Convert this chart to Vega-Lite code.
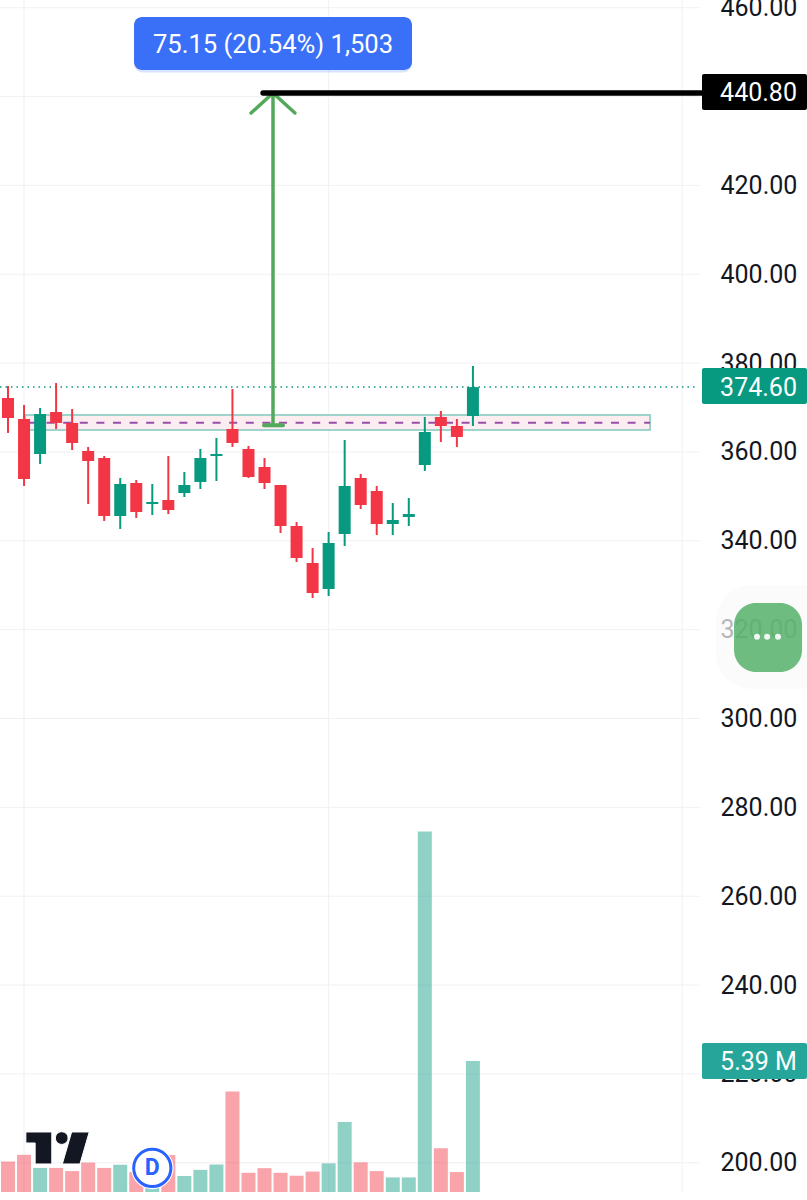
{
  "$schema": "https://vega.github.io/schema/vega-lite/v6.json",
  "width": 807,
  "height": 1200,
  "autosize": {"type": "none"},
  "padding": 0,
  "background": "#ffffff",
  "config": {"view": {"stroke": null}, "text": {"font": "Roboto"}},
  "datasets": {
    "candles": [
      {"x": 0, "open": 372.16, "high": 374.86, "low": 364.28, "close": 367.65, "volume": 1.25, "dir": "down"},
      {"x": 1, "open": 367.43, "high": 370.58, "low": 352.35, "close": 353.92, "volume": 1.53, "dir": "down"},
      {"x": 2, "open": 359.55, "high": 369.90, "low": 357.30, "close": 368.55, "volume": 0.99, "dir": "up"},
      {"x": 3, "open": 369.00, "high": 375.53, "low": 365.18, "close": 366.53, "volume": 0.99, "dir": "down"},
      {"x": 4, "open": 366.53, "high": 369.68, "low": 360.45, "close": 362.03, "volume": 0.86, "dir": "down"},
      {"x": 5, "open": 360.23, "high": 361.13, "low": 348.29, "close": 357.97, "volume": 1.21, "dir": "down"},
      {"x": 6, "open": 358.65, "high": 359.10, "low": 344.47, "close": 345.59, "volume": 0.99, "dir": "down"},
      {"x": 7, "open": 345.59, "high": 354.15, "low": 342.67, "close": 352.80, "volume": 1.12, "dir": "up"},
      {"x": 8, "open": 353.02, "high": 353.70, "low": 345.14, "close": 346.49, "volume": 0.82, "dir": "down"},
      {"x": 9, "open": 348.29, "high": 352.80, "low": 345.82, "close": 348.74, "volume": 0.99, "dir": "up"},
      {"x": 10, "open": 349.19, "high": 359.10, "low": 346.04, "close": 346.94, "volume": 1.52, "dir": "down"},
      {"x": 11, "open": 350.77, "high": 355.50, "low": 349.87, "close": 352.57, "volume": 0.66, "dir": "up"},
      {"x": 12, "open": 353.25, "high": 360.68, "low": 351.67, "close": 358.65, "volume": 0.91, "dir": "up"},
      {"x": 13, "open": 359.10, "high": 363.15, "low": 353.47, "close": 359.55, "volume": 1.13, "dir": "up"},
      {"x": 14, "open": 365.18, "high": 374.18, "low": 361.13, "close": 362.03, "volume": 4.13, "dir": "down"},
      {"x": 15, "open": 360.68, "high": 361.35, "low": 354.15, "close": 354.37, "volume": 0.79, "dir": "down"},
      {"x": 16, "open": 356.62, "high": 358.65, "low": 351.67, "close": 353.02, "volume": 0.98, "dir": "down"},
      {"x": 17, "open": 352.57, "high": 352.57, "low": 341.77, "close": 343.34, "volume": 0.79, "dir": "down"},
      {"x": 18, "open": 343.34, "high": 344.24, "low": 335.24, "close": 336.14, "volume": 0.67, "dir": "down"},
      {"x": 19, "open": 335.01, "high": 338.39, "low": 327.13, "close": 328.26, "volume": 0.84, "dir": "down"},
      {"x": 20, "open": 329.16, "high": 341.99, "low": 327.58, "close": 339.52, "volume": 1.18, "dir": "up"},
      {"x": 21, "open": 341.54, "high": 362.70, "low": 338.84, "close": 352.35, "volume": 2.88, "dir": "up"},
      {"x": 22, "open": 354.15, "high": 355.05, "low": 347.17, "close": 348.07, "volume": 1.22, "dir": "down"},
      {"x": 23, "open": 351.22, "high": 352.35, "low": 341.32, "close": 343.79, "volume": 0.86, "dir": "down"},
      {"x": 24, "open": 343.79, "high": 348.52, "low": 341.32, "close": 344.69, "volume": 0.60, "dir": "up"},
      {"x": 25, "open": 345.37, "high": 349.64, "low": 343.34, "close": 346.04, "volume": 0.60, "dir": "up"},
      {"x": 26, "open": 357.07, "high": 367.88, "low": 355.72, "close": 364.50, "volume": 14.83, "dir": "up"},
      {"x": 27, "open": 367.88, "high": 369.23, "low": 362.25, "close": 365.85, "volume": 1.80, "dir": "down"},
      {"x": 28, "open": 365.85, "high": 367.43, "low": 361.13, "close": 363.38, "volume": 0.82, "dir": "down"},
      {"x": 29, "open": 368.10, "high": 379.36, "low": 365.85, "close": 374.60, "volume": 5.39, "dir": "up"}
    ],
    "hgrid": [
      {"x": -0.5, "x2": 43.17, "price": 460},
      {"x": -0.5, "x2": 43.17, "price": 440},
      {"x": -0.5, "x2": 43.17, "price": 420},
      {"x": -0.5, "x2": 43.17, "price": 400},
      {"x": -0.5, "x2": 43.17, "price": 380},
      {"x": -0.5, "x2": 43.17, "price": 360},
      {"x": -0.5, "x2": 43.17, "price": 340},
      {"x": -0.5, "x2": 43.17, "price": 320},
      {"x": -0.5, "x2": 43.17, "price": 300},
      {"x": -0.5, "x2": 43.17, "price": 280},
      {"x": -0.5, "x2": 43.17, "price": 260},
      {"x": -0.5, "x2": 43.17, "price": 240},
      {"x": -0.5, "x2": 43.17, "price": 220},
      {"x": -0.5, "x2": 43.17, "price": 200}
    ],
    "vgrid": [
      {"x": 1, "price": 193.2, "price2": 461.74},
      {"x": 20, "price": 193.2, "price2": 461.74},
      {"x": 42.05, "price": 193.2, "price2": 461.74}
    ],
    "arrow": [
      {"x": 16.53, "x2": 16.53, "price": 440.8, "price2": 366},
      {"x": 16.53, "x2": 15.16, "price": 440.8, "price2": 436.3},
      {"x": 16.53, "x2": 17.9, "price": 440.8, "price2": 436.3}
    ],
    "boxes": [
      {"x": 43.29, "x2": 49.84, "price": 445.06, "price2": 436.99, "kind": "target", "label": "440.80", "mid": 440.7, "textx": 44.42},
      {"x": 43.29, "x2": 49.84, "price": 378.9, "price2": 370.8, "kind": "last", "label": "374.60", "mid": 374.5, "textx": 44.42},
      {"x": 43.29, "x2": 49.84, "price": 226.96, "price2": 218.86, "kind": "vol", "label": "5.39 M", "mid": 222.6, "textx": 44.42}
    ]
  },
  "encoding": {
    "x": {"field": "x", "type": "quantitative", "scale": {"domain": [-0.5, 49.84], "nice": false, "zero": false, "padding": 0}, "axis": null},
    "y": {"field": "price", "type": "quantitative", "scale": {"domain": [191.62, 461.74], "nice": false, "zero": false}, "axis": null}
  },
  "resolve": {"scale": {"y": "independent"}},
  "layer": [
    {
      "data": {"name": "hgrid"},
      "mark": {"type": "rule", "color": "#F0F1F4", "strokeWidth": 1},
      "encoding": {
        "x2": {"field": "x2"},
        "y": {
          "field": "price",
          "type": "quantitative",
          "scale": {"domain": [191.62, 461.74], "nice": false, "zero": false},
          "axis": {
            "orient": "right",
            "values": [200, 220, 240, 260, 280, 300, 320, 340, 360, 380, 400, 420, 440, 460],
            "format": ".2f",
            "grid": false,
            "domain": false,
            "ticks": false,
            "title": null,
            "labelPadding": -87,
            "labelAlign": "left",
            "labelBaseline": "middle",
            "labelFont": "Roboto",
            "labelFontSize": 25,
            "labelColor": "#131722",
            "labelOverlap": false,
            "labelFlush": false,
            "labelBound": false
          }
        }
      }
    },
    {
      "data": {"name": "vgrid"},
      "mark": {"type": "rule", "color": "#F0F1F4", "strokeWidth": 1},
      "encoding": {"y2": {"field": "price2"}}
    },
    {
      "data": {"name": "candles"},
      "mark": {"type": "bar", "size": 14, "opacity": 0.45, "orient": "vertical"},
      "encoding": {
        "y": {"field": "volume", "type": "quantitative", "stack": null, "scale": {"domain": [-0.33, 49.05], "nice": false}, "axis": null},
        "color": {"field": "dir", "type": "nominal", "scale": {"domain": ["up", "down"], "range": ["#089981", "#F23645"]}, "legend": null}
      }
    },
    {
      "data": {"values": [{"x": 1.06, "x2": 40.05, "price": 368.33, "price2": 364.95}]},
      "mark": {"type": "rect", "fill": "#FCEDF0", "stroke": "#7FC9BF", "strokeWidth": 1.5},
      "encoding": {"x2": {"field": "x2"}, "y2": {"field": "price2"}}
    },
    {
      "data": {"values": [{"x": 1.37, "x2": 40.05, "price": 366.6}]},
      "mark": {"type": "rule", "color": "#9A4DA8", "strokeWidth": 2, "strokeDash": [8, 8.6]},
      "encoding": {"x2": {"field": "x2"}}
    },
    {
      "data": {"values": [{"x": -0.5, "x2": 43.04, "price": 374.6}]},
      "mark": {"type": "rule", "color": "#089981", "strokeWidth": 1.5, "strokeDash": [1.5, 4]},
      "encoding": {"x2": {"field": "x2"}}
    },
    {
      "data": {"name": "candles"},
      "mark": {"type": "rule", "strokeWidth": 2},
      "encoding": {
        "y": {"field": "low", "type": "quantitative", "scale": {"domain": [191.62, 461.74], "nice": false, "zero": false}, "axis": null},
        "y2": {"field": "high"},
        "color": {"field": "dir", "type": "nominal", "legend": null}
      }
    },
    {
      "data": {"name": "candles"},
      "mark": {"type": "bar", "size": 12, "orient": "vertical"},
      "encoding": {
        "y": {"field": "open", "type": "quantitative", "scale": {"domain": [191.62, 461.74], "nice": false, "zero": false}, "axis": null},
        "y2": {"field": "close"},
        "color": {"field": "dir", "type": "nominal", "legend": null}
      }
    },
    {
      "data": {"values": [{"x": 15.97, "x2": 17.15, "price": 366}]},
      "mark": {"type": "rule", "color": "#53A95B", "strokeWidth": 4, "strokeCap": "round"},
      "encoding": {"x2": {"field": "x2"}}
    },
    {
      "data": {"name": "arrow"},
      "mark": {"type": "rule", "color": "#53A95B", "strokeWidth": 3.5, "strokeCap": "round"},
      "encoding": {"x2": {"field": "x2"}, "y2": {"field": "price2"}}
    },
    {
      "data": {"values": [{"x": 15.91, "x2": 43.29, "price": 440.8}]},
      "mark": {"type": "rule", "color": "#000000", "strokeWidth": 5.5, "strokeCap": "round"},
      "encoding": {"x2": {"field": "x2"}}
    },
    {
      "data": {"name": "boxes"},
      "mark": {"type": "rect", "cornerRadius": 2},
      "encoding": {
        "x2": {"field": "x2"},
        "y2": {"field": "price2"},
        "fill": {"field": "kind", "type": "nominal", "scale": {"domain": ["target", "last", "vol"], "range": ["#000000", "#089981", "#26A69A"]}, "legend": null}
      }
    },
    {
      "data": {"name": "boxes"},
      "mark": {"type": "text", "align": "left", "baseline": "middle", "font": "Roboto", "fontSize": 25, "color": "#ffffff"},
      "encoding": {
        "x": {"field": "textx", "type": "quantitative"},
        "y": {"field": "mid", "type": "quantitative", "scale": {"domain": [191.62, 461.74], "nice": false, "zero": false}, "axis": null},
        "text": {"field": "label"}
      }
    },
    {
      "data": {"values": [{"x": 7.86, "x2": 25.2, "price": 457.5, "price2": 445.4}]},
      "mark": {"type": "rect", "fill": "#2962FF", "opacity": 0.18, "cornerRadius": 9},
      "encoding": {"x2": {"field": "x2"}, "y2": {"field": "price2"}}
    },
    {
      "data": {"values": [{"x": 7.86, "x2": 25.2, "price": 457.92, "price2": 445.99}]},
      "mark": {"type": "rect", "fill": "#3A6FF8", "cornerRadius": 8},
      "encoding": {"x2": {"field": "x2"}, "y2": {"field": "price2"}}
    },
    {
      "data": {"values": [{"x": 16.53, "price": 451.6, "label": "75.15 (20.54%) 1,503"}]},
      "mark": {"type": "text", "align": "center", "baseline": "middle", "font": "Roboto", "fontSize": 25.6, "color": "#ffffff"},
      "encoding": {"text": {"field": "label"}}
    },
    {
      "data": {"values": [{"x": 3.09, "price": 203.33}]},
      "mark": {
        "type": "point",
        "filled": true,
        "size": 4096,
        "opacity": 1,
        "color": "#131722",
        "stroke": "#ffffff",
        "strokeWidth": 1,
        "shape": "M-0.99,-0.5L-0.18,-0.5L-0.18,0.5L-0.7,0.5L-0.7,-0.156L-0.99,-0.156ZM-0.066,-0.31A0.197,0.197 0 1,0 0.328,-0.31A0.197,0.197 0 1,0 -0.066,-0.31ZM0.44,-0.5L0.99,-0.5L0.7,0.5L0.15,0.5Z"
      }
    },
    {
      "data": {"values": [{"x": 9, "price": 198.83}]},
      "mark": {"type": "point", "shape": "circle", "filled": true, "size": 1810, "color": "#ffffff", "opacity": 1}
    },
    {
      "data": {"values": [{"x": 9, "price": 198.83}]},
      "mark": {"type": "point", "shape": "circle", "filled": true, "size": 1385, "fill": "#ffffff", "stroke": "#2962FF", "strokeWidth": 3, "opacity": 1}
    },
    {
      "data": {"values": [{"x": 9, "price": 198.83, "label": "D"}]},
      "mark": {"type": "text", "align": "center", "baseline": "middle", "font": "Roboto", "fontWeight": "bold", "fontSize": 23, "color": "#2962FF"},
      "encoding": {"text": {"field": "label"}}
    },
    {
      "data": {"values": [{"x": 44.17, "x2": 51.5, "price": 330.06, "price2": 306.65}]},
      "mark": {"type": "rect", "fill": "#FAFAFA", "opacity": 0.7, "cornerRadius": 36},
      "encoding": {"x2": {"field": "x2"}, "y2": {"field": "price2"}}
    },
    {
      "data": {"values": [{"x": 45.29, "x2": 49.53, "price": 326.0, "price2": 310.5}]},
      "mark": {"type": "rect", "fill": "#55B068", "opacity": 0.85, "cornerRadius": 22},
      "encoding": {"x2": {"field": "x2"}, "y2": {"field": "price2"}}
    },
    {
      "data": {"values": [{"x": 46.72, "price": 318.4}, {"x": 47.35, "price": 318.4}, {"x": 48.03, "price": 318.4}]},
      "mark": {"type": "point", "shape": "circle", "filled": true, "size": 36, "color": "#F1F7F2", "opacity": 1}
    }
  ]
}
